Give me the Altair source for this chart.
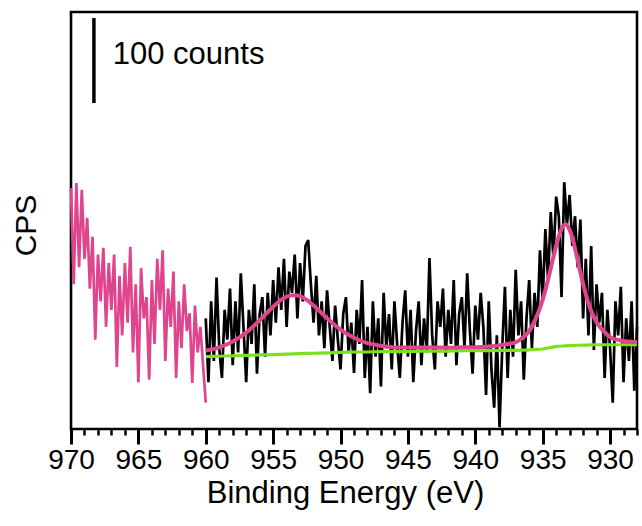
import altair as alt
import numpy as np
import pandas as pd

# ---- data (counts; 100 counts scale bar) ----
black_start, step = 960.0, 0.2
black_counts = [
    130, 55, 150, 80, 178, 95, 60, 140, 105, 165, 75,
    150, 90, 183, 120, 55, 140, 100, 170, 65, 135, 155, 85, 160, 110, 175, 125,
    190, 140, 200, 120, 185, 160, 205, 130, 195, 150, 215, 222, 170, 125, 180, 110,
    150, 95, 163, 120, 80, 145, 105, 70, 135, 155, 90, 125, 66,
    140, 100, 175, 60, 120, 42, 150, 85, 130, 50, 160, 95,
    135, 70, 150, 100, 60, 125, 163, 85, 140, 55, 115, 150, 75,
    130, 90, 201, 110, 70, 150, 120, 165, 85, 140, 100, 175, 75, 135, 155, 95, 183, 115, 65, 145, 105, 160,
    120, 40, 150, 70, 25, 110, 2, 95, 167, 60,
    140, 85, 187, 110, 150, 58, 130, 175, 95, 160, 120,
    210, 150, 235, 175, 255, 200, 273,
    250, 155, 290, 240, 275, 215, 250,
    190, 246, 130, 200, 110, 215, 93, 170, 125,
    160, 60, 140, 95, 31, 150, 110, 167, 55, 130, 80, 150, 45, 120,
]
pink_start = 970.0
pink_counts = [
    283, 170, 289, 190, 281, 200, 248, 165, 226, 105, 205, 150, 213, 120, 195, 140,
    205, 73, 180, 110, 195, 125, 214, 90, 170, 55, 189, 130, 155, 58, 175, 100,
    200, 140, 210, 80, 165, 120, 185, 60, 150, 95, 170, 115, 136, 54, 145, 90,
    120, 75, 31,
]
fit_ev = [
    960, 959.5, 959, 958.5, 958, 957.5, 957, 956.5, 956, 955.5, 955, 954.5, 954,
    953.5, 953, 952.5, 952, 951.5, 951, 950.5, 950, 949.5, 949, 948.5, 948, 947.5,
    947, 946.5, 946, 945, 944, 943, 942, 941, 940, 939, 938, 937.5, 937, 936.5,
    936, 935.5, 935, 934.75, 934.5, 934.25, 934, 933.75, 933.5, 933.3, 933,
    932.75, 932.5, 932.25, 932, 931.75, 931.5, 931, 930.5, 930, 929.5, 929,
    928.5, 928,
]
fit_counts = [
    92.2, 93.6, 96.0, 99.0, 102.7, 107.6, 113.2, 120.1, 127.6, 135.8, 143.7, 150.7,
    155.6, 157.3, 156.1, 151.7, 145.2, 137.8, 130.1, 123.1, 116.7, 111.6, 107.2,
    103.7, 101.0, 99.1, 97.8, 96.6, 95.8, 95.9, 95.9, 95.7, 95.6, 96.1, 96.2, 96.9,
    98.8, 100.1, 101.9, 107, 115, 130, 152, 166, 182, 199, 215, 229, 238, 240.7,
    234, 222.1, 205.3, 187.4, 170.5, 155.6, 142.8, 125.5, 115.5, 108, 105, 103.5,
    102.5, 102,
]
bg_counts = [
    85, 85.25, 85.5, 85.75, 86, 86.25, 86.5, 86.75, 87, 87.25, 87.5, 87.75, 88,
    88.25, 88.5, 88.75, 89, 89.25, 89.5, 89.75, 90, 90.25, 90.5, 90.5, 90.5, 90.75,
    91, 91, 91, 91, 91.5, 91.5, 91.5, 92, 92, 92, 92.5, 92.5, 92.5, 92.75, 93, 93.5,
    94, 94.75, 95.5, 96.2, 97, 97.25, 97.5, 97.7, 98, 98.1, 98.25, 98.4, 98.5, 98.6,
    98.75, 99, 99, 99, 99, 99, 99, 99,
]
major_ticks = [970, 965, 960, 955, 950, 945, 940, 935, 930]
minor_ticks = list(range(928, 971))
bar_ev, bar_lo, bar_hi = [968.3], [383], [483]
label_ev, label_y, label_text = [966.9], [429], ["100 counts"]

black_df = pd.DataFrame({"ev": black_start - step * np.arange(len(black_counts)), "c": black_counts})
pink_df = pd.DataFrame({"ev": pink_start - step * np.arange(len(pink_counts)), "c": pink_counts})
fit_df = pd.DataFrame({"ev": fit_ev, "c": fit_counts, "bg": bg_counts})
bar_df = pd.DataFrame({"ev": bar_ev, "lo": bar_lo, "hi": bar_hi})
lab_df = pd.DataFrame({"ev": label_ev, "y": label_y, "t": label_text})

FONT = "Liberation Sans"
PINK = "#E0448C"
GREEN = "#7CE01E"
xs = alt.Scale(domain=[928, 970], reverse=True, nice=False, zero=False)
ys = alt.Scale(domain=[0, 490], nice=False, zero=False)

major_axis = alt.Axis(values=major_ticks, orient="bottom", format="d", tickSize=15, tickWidth=3,
                      tickColor="black", domain=False, grid=False, labelFontSize=28,
                      labelFont=FONT, labelColor="black", labelPadding=2,
                      labelOverlap=False, labelFlush=False,
                      title="Binding Energy (eV)", titleFont=FONT, titleFontSize=31,
                      titleFontWeight="normal", titleColor="black", titlePadding=4,
                      titleX=274)
minor_axis = alt.Axis(values=minor_ticks, orient="bottom", tickSize=6, tickWidth=2.5,
                      tickColor="black", domain=False, grid=False, labels=False, title=None)
y_axis = alt.Axis(orient="left", ticks=False, labels=False, domain=False, grid=False,
                  title="CPS", titleFont=FONT, titleFontSize=30, titleFontWeight="normal",
                  titleColor="black", titlePadding=30, titleY=213)

black = alt.Chart(black_df).mark_line(color="black", strokeWidth=2.7).encode(
    x=alt.X("ev:Q", scale=xs, axis=major_axis),
    y=alt.Y("c:Q", scale=ys, axis=y_axis),
)
pink = alt.Chart(pink_df).mark_line(color=PINK, strokeWidth=2.7).encode(
    x=alt.X("ev:Q", scale=xs, axis=minor_axis),
    y=alt.Y("c:Q", scale=ys, axis=None),
)
bg = alt.Chart(fit_df).mark_line(color=GREEN, strokeWidth=3.2).encode(
    x=alt.X("ev:Q", scale=xs, axis=None),
    y=alt.Y("bg:Q", scale=ys, axis=None),
)
fit = alt.Chart(fit_df).mark_line(color=PINK, strokeWidth=4, interpolate="monotone").encode(
    x=alt.X("ev:Q", scale=xs, axis=None),
    y=alt.Y("c:Q", scale=ys, axis=None),
)
bar = alt.Chart(bar_df).mark_rule(color="black", strokeWidth=3.5).encode(
    x=alt.X("ev:Q", scale=xs, axis=None),
    y=alt.Y("lo:Q", scale=ys, axis=None),
    y2="hi:Q",
)
lab = alt.Chart(lab_df).mark_text(align="left", baseline="alphabetic", font=FONT,
                                  fontSize=31, color="black").encode(
    x=alt.X("ev:Q", scale=xs, axis=None),
    y=alt.Y("y:Q", scale=ys, axis=None),
    text="t:N",
)

chart = alt.layer(black, pink, bg, fit, bar, lab).resolve_axis(
    x="independent", y="independent"
).properties(
    width=566, height=417,
    padding={"left": 71, "top": 12, "right": 5, "bottom": 97},
    autosize=alt.AutoSizeParams(type="none"),
    background="white",
).configure_view(stroke="black", strokeWidth=2.6)

chart.save("out.html", embed_options={"renderer": "svg", "actions": False})
